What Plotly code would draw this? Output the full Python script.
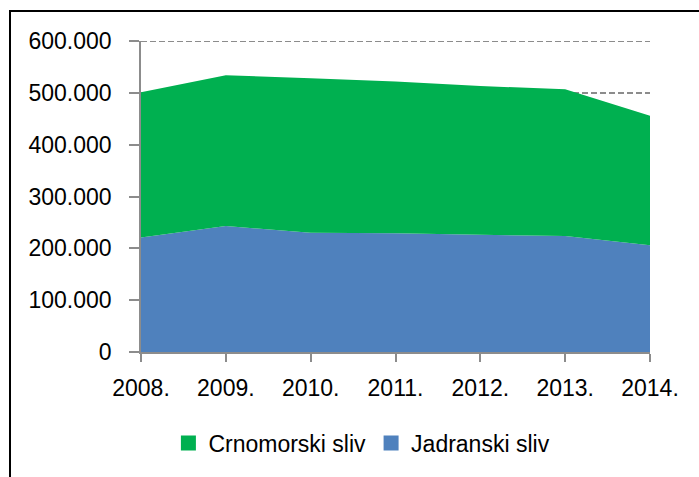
import plotly.graph_objects as go

years = [2008, 2009, 2010, 2011, 2012, 2013, 2014]
year_labels = ["2008.", "2009.", "2010.", "2011.", "2012.", "2013.", "2014."]
jadranski = [221000, 243000, 230000, 229000, 226000, 224000, 206000]
crnomorski = [280000, 291000, 298000, 293000, 287000, 283000, 250000]
y_ticks = [0, 100000, 200000, 300000, 400000, 500000, 600000]

FONT = "Liberation Sans"
GRAY = "#8c8c8c"
BLUE = "#4F81BD"
GREEN = "#00B050"

fig = go.Figure()
fig.add_trace(go.Scatter(
    x=years, y=jadranski, name="Jadranski sliv", stackgroup="one", showlegend=False,
    mode="lines", line=dict(width=0, color=BLUE), fillcolor=BLUE,
))
fig.add_trace(go.Scatter(
    x=years, y=crnomorski, name="Crnomorski sliv", stackgroup="one", showlegend=False,
    mode="lines", line=dict(width=0, color=GREEN), fillcolor=GREEN,
))
# legend swatches (square markers)
fig.add_trace(go.Scatter(x=[None], y=[None], name="Crnomorski sliv", mode="markers",
                         marker=dict(symbol="square", size=15, color=GREEN)))
fig.add_trace(go.Scatter(x=[None], y=[None], name="Jadranski sliv", mode="markers",
                         marker=dict(symbol="square", size=15, color=BLUE)))

fig.update_layout(
    width=699, height=477,
    margin=dict(l=141, r=49, t=41, b=125),
    paper_bgcolor="white", plot_bgcolor="white",
    separators=",.",
    font=dict(family=FONT, size=23, color="black"),
    showlegend=True,
    legend=dict(orientation="h", traceorder="normal", x=0.434, xanchor="center",
                y=-0.293, yanchor="middle", font=dict(size=23), itemwidth=30,
                bgcolor="rgba(0,0,0,0)"),
    xaxis=dict(range=[2008, 2014], tickvals=years, ticktext=year_labels,
               showgrid=False, zeroline=False, showline=True, linecolor=GRAY,
               linewidth=1.5, ticks="outside", ticklen=8, tickcolor=GRAY,
               tickwidth=1.5, ticklabelstandoff=7),
    yaxis=dict(range=[0, 600000], tickvals=y_ticks, tickformat=",d",
               showgrid=True, gridcolor=GRAY, griddash="6px,3px", gridwidth=2,
               zeroline=False, showline=True, linecolor=GRAY, linewidth=1.5,
               ticks="outside", ticklen=10, tickcolor=GRAY, tickwidth=1.5,
               ticklabelstandoff=13),
    shapes=[
        dict(type="line", xref="paper", yref="y", x0=0, x1=1, y0=600000, y1=600000,
             line=dict(color=GRAY, width=2, dash="6px,3px"), layer="below"),
        dict(type="rect", xref="paper", yref="paper",
             x0=(10 - 141) / 509, x1=(720 - 141) / 509,
             y0=(352 - 500) / 311, y1=(352 - 11) / 311,
             line=dict(color="black", width=2), layer="above"),
    ],
)

fig.write_html("out.html", config={"displayModeBar": False},
               post_script="document.body.style.margin='0';")
